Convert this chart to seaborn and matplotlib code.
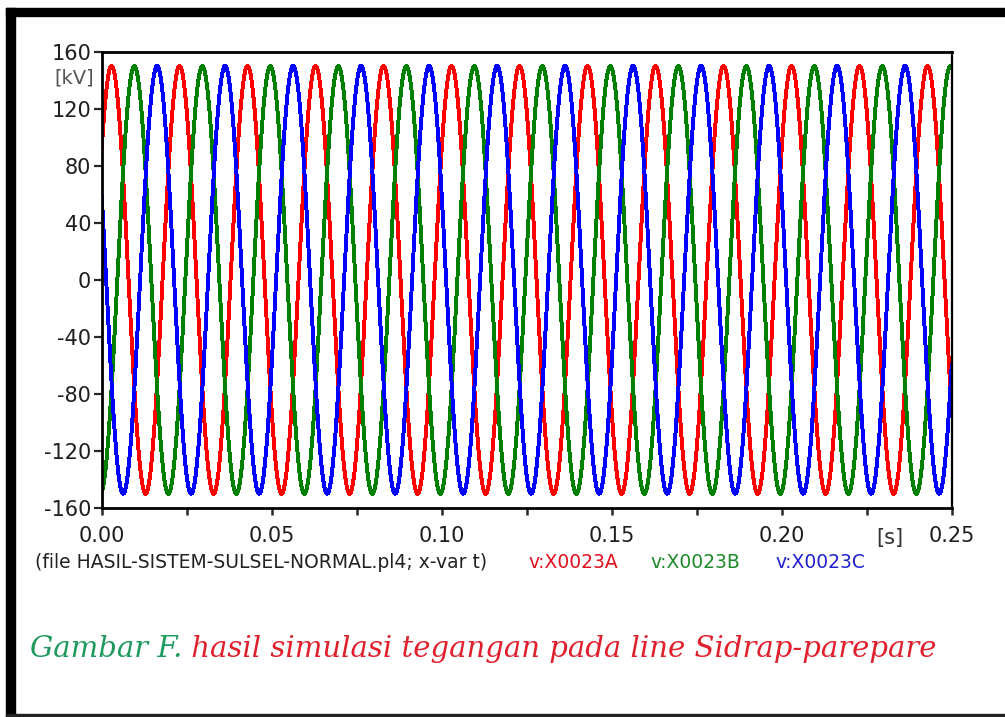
import numpy as np
import pandas as pd
import matplotlib
matplotlib.use("Agg")
import matplotlib.pyplot as plt
import seaborn as sns
from matplotlib.patches import Rectangle
from matplotlib.ticker import MultipleLocator, FixedLocator, FixedFormatter

# ---------------- data ----------------
series_names = ["v:X0023A", "v:X0023B", "v:X0023C"]
series_colors = ["#ff0000", "#008000", "#0000ff"]
legend_colors = ["#e01020", "#1f8a2a", "#2020d0"]
peak_kv = [150.0, 150.0, 150.0]            # crest value of each phase voltage
first_peak_s = [0.0029, 0.0096, 0.0163]     # time of first crest of each phase
frequency_hz = 50.0                         # 12.5 cycles in 0.25 s
time_end_s = 0.25
y_ticks = [-160, -120, -80, -40, 0, 40, 80, 120, 160]
y_tick_labels = ["-160", "-120", "-80", "-40", "0", "40", "80", "120", "160"]
x_ticks = [0.00, 0.05, 0.10, 0.15, 0.20, 0.25]
x_tick_labels = ["0.00", "0.05", "0.10", "0.15", "0.20", "0.25"]
y_unit = "[kV]"
x_unit = "[s]"
source_text = "(file HASIL-SISTEM-SULSEL-NORMAL.pl4; x-var t)"
caption_head = "Gambar F."
caption_body = " hasil simulasi tegangan pada line Sidrap-parepare"

# ---------------- build waveform table ----------------
t = np.arange(0.0, time_end_s + 1e-9, 5e-5)
frames = []
for name, amp, tp in zip(series_names, peak_kv, first_peak_s):
    v = amp * np.cos(2 * np.pi * frequency_hz * (t - tp))
    frames.append(pd.DataFrame({"t": t, "v": v, "phase": name}))
df = pd.concat(frames, ignore_index=True)

# ---------------- figure ----------------
W, H = 1005, 717
sns.set_style("white")
plt.rcParams["font.family"] = ["DejaVu Sans"]
plt.rcParams["axes.unicode_minus"] = False

fig = plt.figure(figsize=(W / 100, H / 100), dpi=100)
fig.patch.set_facecolor("white")

def fx(px):
    return px / W

def fy(py):
    return 1 - py / H

# outer black frame of the screenshot (thick top & left, thin bottom)
fig.patches.append(Rectangle((fx(6), fy(16)), 1 - fx(6), 8 / H,
                             transform=fig.transFigure, color="black", zorder=0))
fig.patches.append(Rectangle((fx(6), 0), fx(15) - fx(6), fy(8),
                             transform=fig.transFigure, color="black", zorder=0))
fig.patches.append(Rectangle((fx(6), 0), 1 - fx(6), 3 / H,
                             transform=fig.transFigure, color="#222222", zorder=0))

ax = fig.add_axes([fx(101.7), fy(508), fx(951.7) - fx(101.7), fy(51.7) - fy(508)])
ax.set_facecolor("white")

sns.lineplot(data=df, x="t", y="v", hue="phase",
             palette=dict(zip(series_names, series_colors)),
             hue_order=series_names, estimator=None, sort=False,
             legend=False, linewidth=2.1, antialiased=False, ax=ax)

ax.set_xlim(0, time_end_s)
ax.set_ylim(y_ticks[0], y_ticks[-1])
ax.set_xlabel("")
ax.set_ylabel("")

ax.yaxis.set_major_locator(FixedLocator(y_ticks))
ax.yaxis.set_major_formatter(FixedFormatter(y_tick_labels))
ax.xaxis.set_major_locator(FixedLocator(x_ticks))
ax.xaxis.set_major_formatter(FixedFormatter(x_tick_labels))
ax.xaxis.set_minor_locator(MultipleLocator(0.025))

for s in ax.spines.values():
    s.set_visible(True)
    s.set_color("black")
    s.set_linewidth(2.0)
ax.spines["right"].set_linewidth(1.6)

ax.tick_params(axis="y", which="major", direction="out", length=6, width=1.6,
               pad=1.5, labelsize=15, labelcolor="#1e1e1e", left=True, right=False)
ax.tick_params(axis="x", which="both", direction="out", length=5, width=1.8,
               pad=8, labelsize=15, labelcolor="#1e1e1e", bottom=True, top=False)
ax.tick_params(axis="x", which="minor", labelbottom=False)

# unit labels
fig.text(fx(74), fy(78), y_unit, ha="center", va="center", fontsize=14, color="#555555")
fig.text(fx(890), fy(538), x_unit, ha="center", va="center", fontsize=15, color="#333333")

# source / legend line
fig.text(fx(35), fy(562), source_text, ha="left", va="center", fontsize=13.5, color="#222222")
legend_x = [528, 650, 775]
for name, col, lx in zip(series_names, legend_colors, legend_x):
    fig.text(fx(lx), fy(562), name, ha="left", va="center", fontsize=13.5, color=col)

# caption (two colours)
fig.canvas.draw()
renderer = fig.canvas.get_renderer()
cap_font = dict(family="DejaVu Serif", style="italic", fontsize=21)
t1 = fig.text(fx(30), fy(657), caption_head, ha="left", va="baseline",
              color="#1f9a5e", **cap_font)
bb = t1.get_window_extent(renderer)
fig.text(bb.x1 / W, fy(657), caption_body, ha="left", va="baseline",
         color="#e0202c", **cap_font)

fig.savefig("out.png", dpi=100, facecolor="white")
